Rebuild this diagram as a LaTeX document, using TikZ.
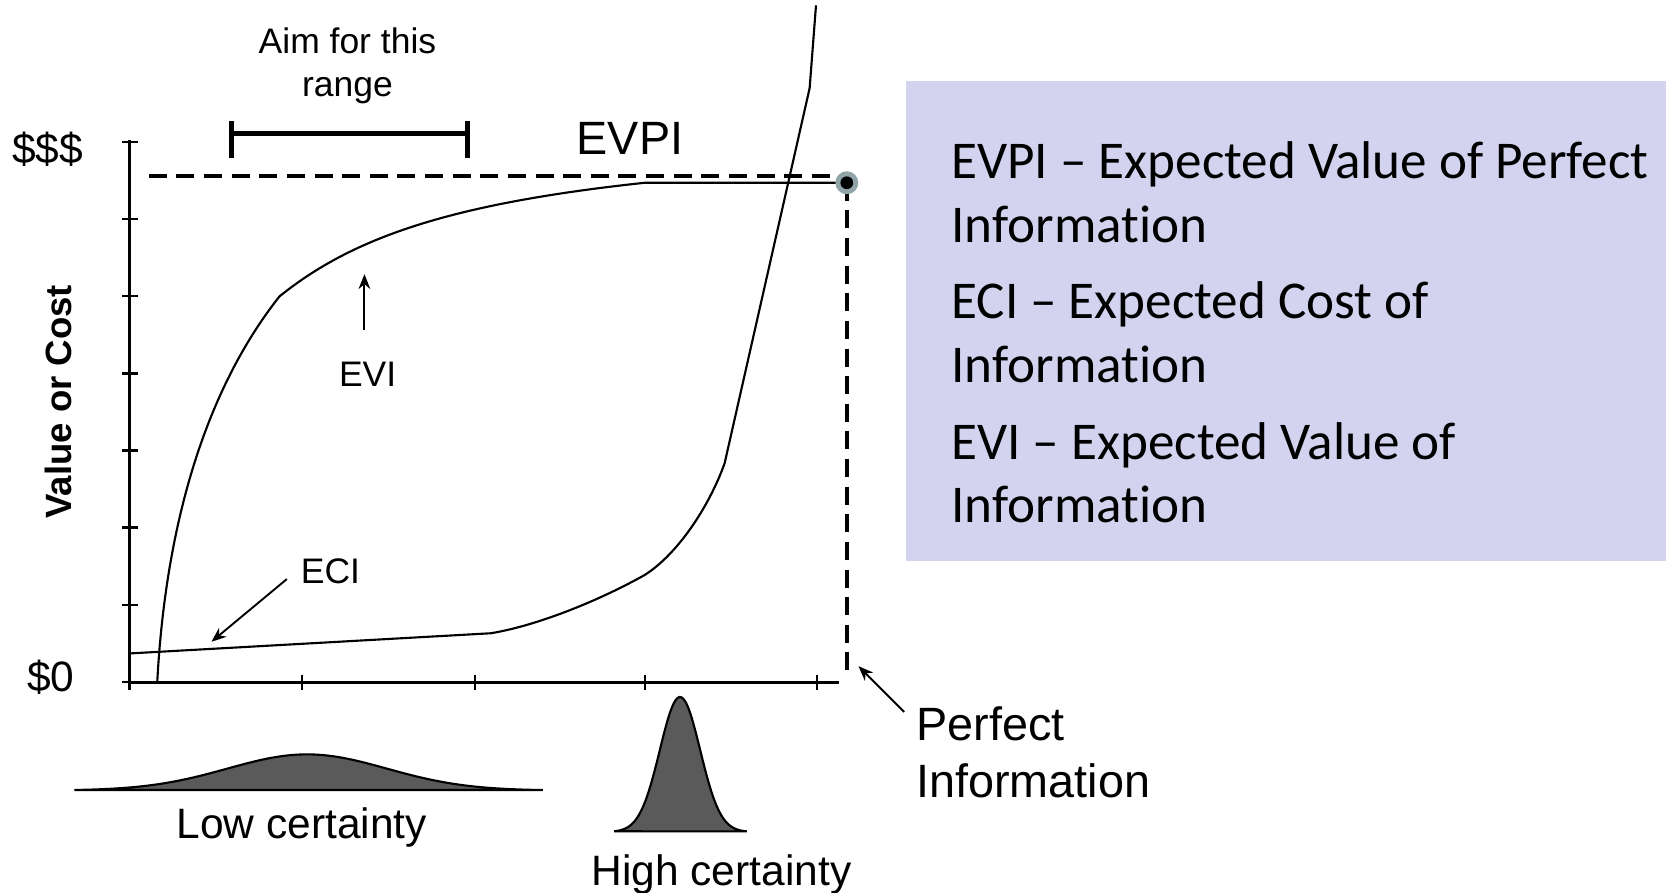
\documentclass[tikz,border=0pt]{standalone}
\usepackage{fontspec}
\setmainfont{Liberation Sans}
\newfontfamily\boxfont[RawFeature={-liga,-clig,-calt,-dlig}]{Carlito}
\usetikzlibrary{arrows.meta}
\definecolor{boxfill}{HTML}{D3D3EF}
\definecolor{bellgray}{HTML}{5A5A5A}
\definecolor{halo}{HTML}{8FA5A8}
\newcommand{\infoword}{Informa\kern0pt tion}
\begin{document}
\begin{tikzpicture}[x=0.5pt,y=-0.5pt,
  curve/.style={line width=1pt},
  axisln/.style={line width=1.3pt},
  tickln/.style={line width=1.1pt},
  ptr/.style={line width=0.9pt,-{Stealth[length=7pt,width=5.5pt]}},
  dashln/.style={line width=1.8pt,dash pattern=on 8.5pt off 4.5pt},
  lbl/.style={font=\fontsize{16.7}{20}\selectfont, inner sep=0pt, anchor=base},
  biglbl/.style={font=\fontsize{20}{24}\selectfont, inner sep=0pt, anchor=base},
  hugelbl/.style={font=\fontsize{22}{26}\selectfont, inner sep=0pt, anchor=base},
  boxtxt/.style={font=\boxfont\fontsize{25}{30}\selectfont, inner sep=0pt, anchor=base west},
  bell/.style={fill=bellgray, draw=black, line width=1pt}
]
\useasboundingbox (0,0) rectangle (1568,840);

% legend box
\node (legend) [fill=boxfill, inner sep=0pt, minimum width=358pt, minimum height=226pt, anchor=north west] at (852,76) {};
\node[boxtxt] (l1) at (895,168) {EVPI – Expected Value of Perfect};
\node[boxtxt] (l2) at (895,228) {\infoword};
\node[boxtxt] (l3) at (895,300) {ECI – Expected Cost of};
\node[boxtxt] (l4) at (895,360) {\infoword};
\node[boxtxt] (l5) at (895,432) {EVI – Expected Value of};
\node[boxtxt] (l6) at (895,492) {\infoword};

% axes
\coordinate (ytop) at (122,132);
\coordinate (orig) at (122,642);
\coordinate (xend) at (790,642);
\draw[axisln] (ytop) -- (orig) -- (xend);
\foreach \k in {0,...,7}{
  \draw[tickln] (115,{133.6+72.6*\k}) -- (130,{133.6+72.6*\k});
}
\foreach \xx in {122,284,447,607,769}{
  \draw[tickln] (\xx,635) -- (\xx,649);
}

% labels on axes
\node[biglbl] (top) at (45,154) {\$\$\$};
\node[biglbl] (zero) at (48,651) {\$0};
\node[font=\bfseries\fontsize{17.2}{20}\selectfont, rotate=90, inner sep=0pt] (vc) at (55,378) {Value or Cost};

% range bar
\node[lbl] (aim1) at (327,50) {Aim for this};
\node[lbl] (aim2) at (327,91) {range};
\coordinate (ra) at (218,126);
\coordinate (rb) at (440,126);
\draw[line width=2.3pt] (ra) -- (rb);
\draw[line width=2.3pt] (218,114) -- (218,149);
\draw[line width=2.3pt] (440,114) -- (440,149);

\node[hugelbl] (evpi) at (593,145) {EVPI};

% dashed lines and perfect info dot
\coordinate (dstart) at (140,166);
\coordinate (dend) at (790,166);
\draw[dashln] (dstart) -- (dend);
\coordinate (pdotc) at (797,172);
\coordinate (pend) at (797,636);
\draw[dashln] (pdotc) -- (pend);

% EVI curve
\draw[curve] (148,642) .. controls (156,490) and (195,365) .. (263,279)
  .. controls (330,225) and (420,192) .. (607,172) -- (pdotc);

% ECI curve
\draw[curve] (122,615) -- (462,596) .. controls (510,588) and (570,562) .. (607,541)
  .. controls (637,522) and (667,478) .. (682,436)
  -- (762,83) -- (768,5);

\node[circle, fill=halo, inner sep=0pt, minimum size=10.8pt] (halo) at (pdotc) {};
\node[circle, fill=black, inner sep=0pt, minimum size=6pt] (pdot) at (pdotc) {};

% EVI label and arrow
\node[lbl] (evi) at (346,364) {EVI};
\coordinate (evitail) at (343,311);
\coordinate (evitip) at (343,258);
\draw[ptr] (evitail) -- (evitip);

% ECI label and arrow
\node[lbl] (eci) at (311,549) {ECI};
\coordinate (ecitail) at (270,545);
\coordinate (ecitip) at (199,604);
\draw[ptr] (ecitail) -- (ecitip);

% Perfect information
\node[hugelbl, anchor=base west] (perf1) at (862,697) {Perfect};
\node[hugelbl, anchor=base west] (perf2) at (862,751) {Information};
\coordinate (pitail) at (851,670);
\coordinate (pitip) at (808,627);
\draw[ptr] (pitail) -- (pitip);

% bells
\draw[bell] plot[domain=-219:222, samples=90, smooth] ({289+\x},{744-34*exp(-0.5*(\x/75)*(\x/75))}) -- cycle;
\node[biglbl] (low) at (284,789) {Low certainty};
\draw[bell] plot[domain=-62:63, samples=70, smooth] ({640+\x},{783-127*exp(-0.5*(\x/19)*(\x/19))}) -- cycle;
\node[biglbl] (high) at (679,833) {High certainty};
\end{tikzpicture}
\end{document}
